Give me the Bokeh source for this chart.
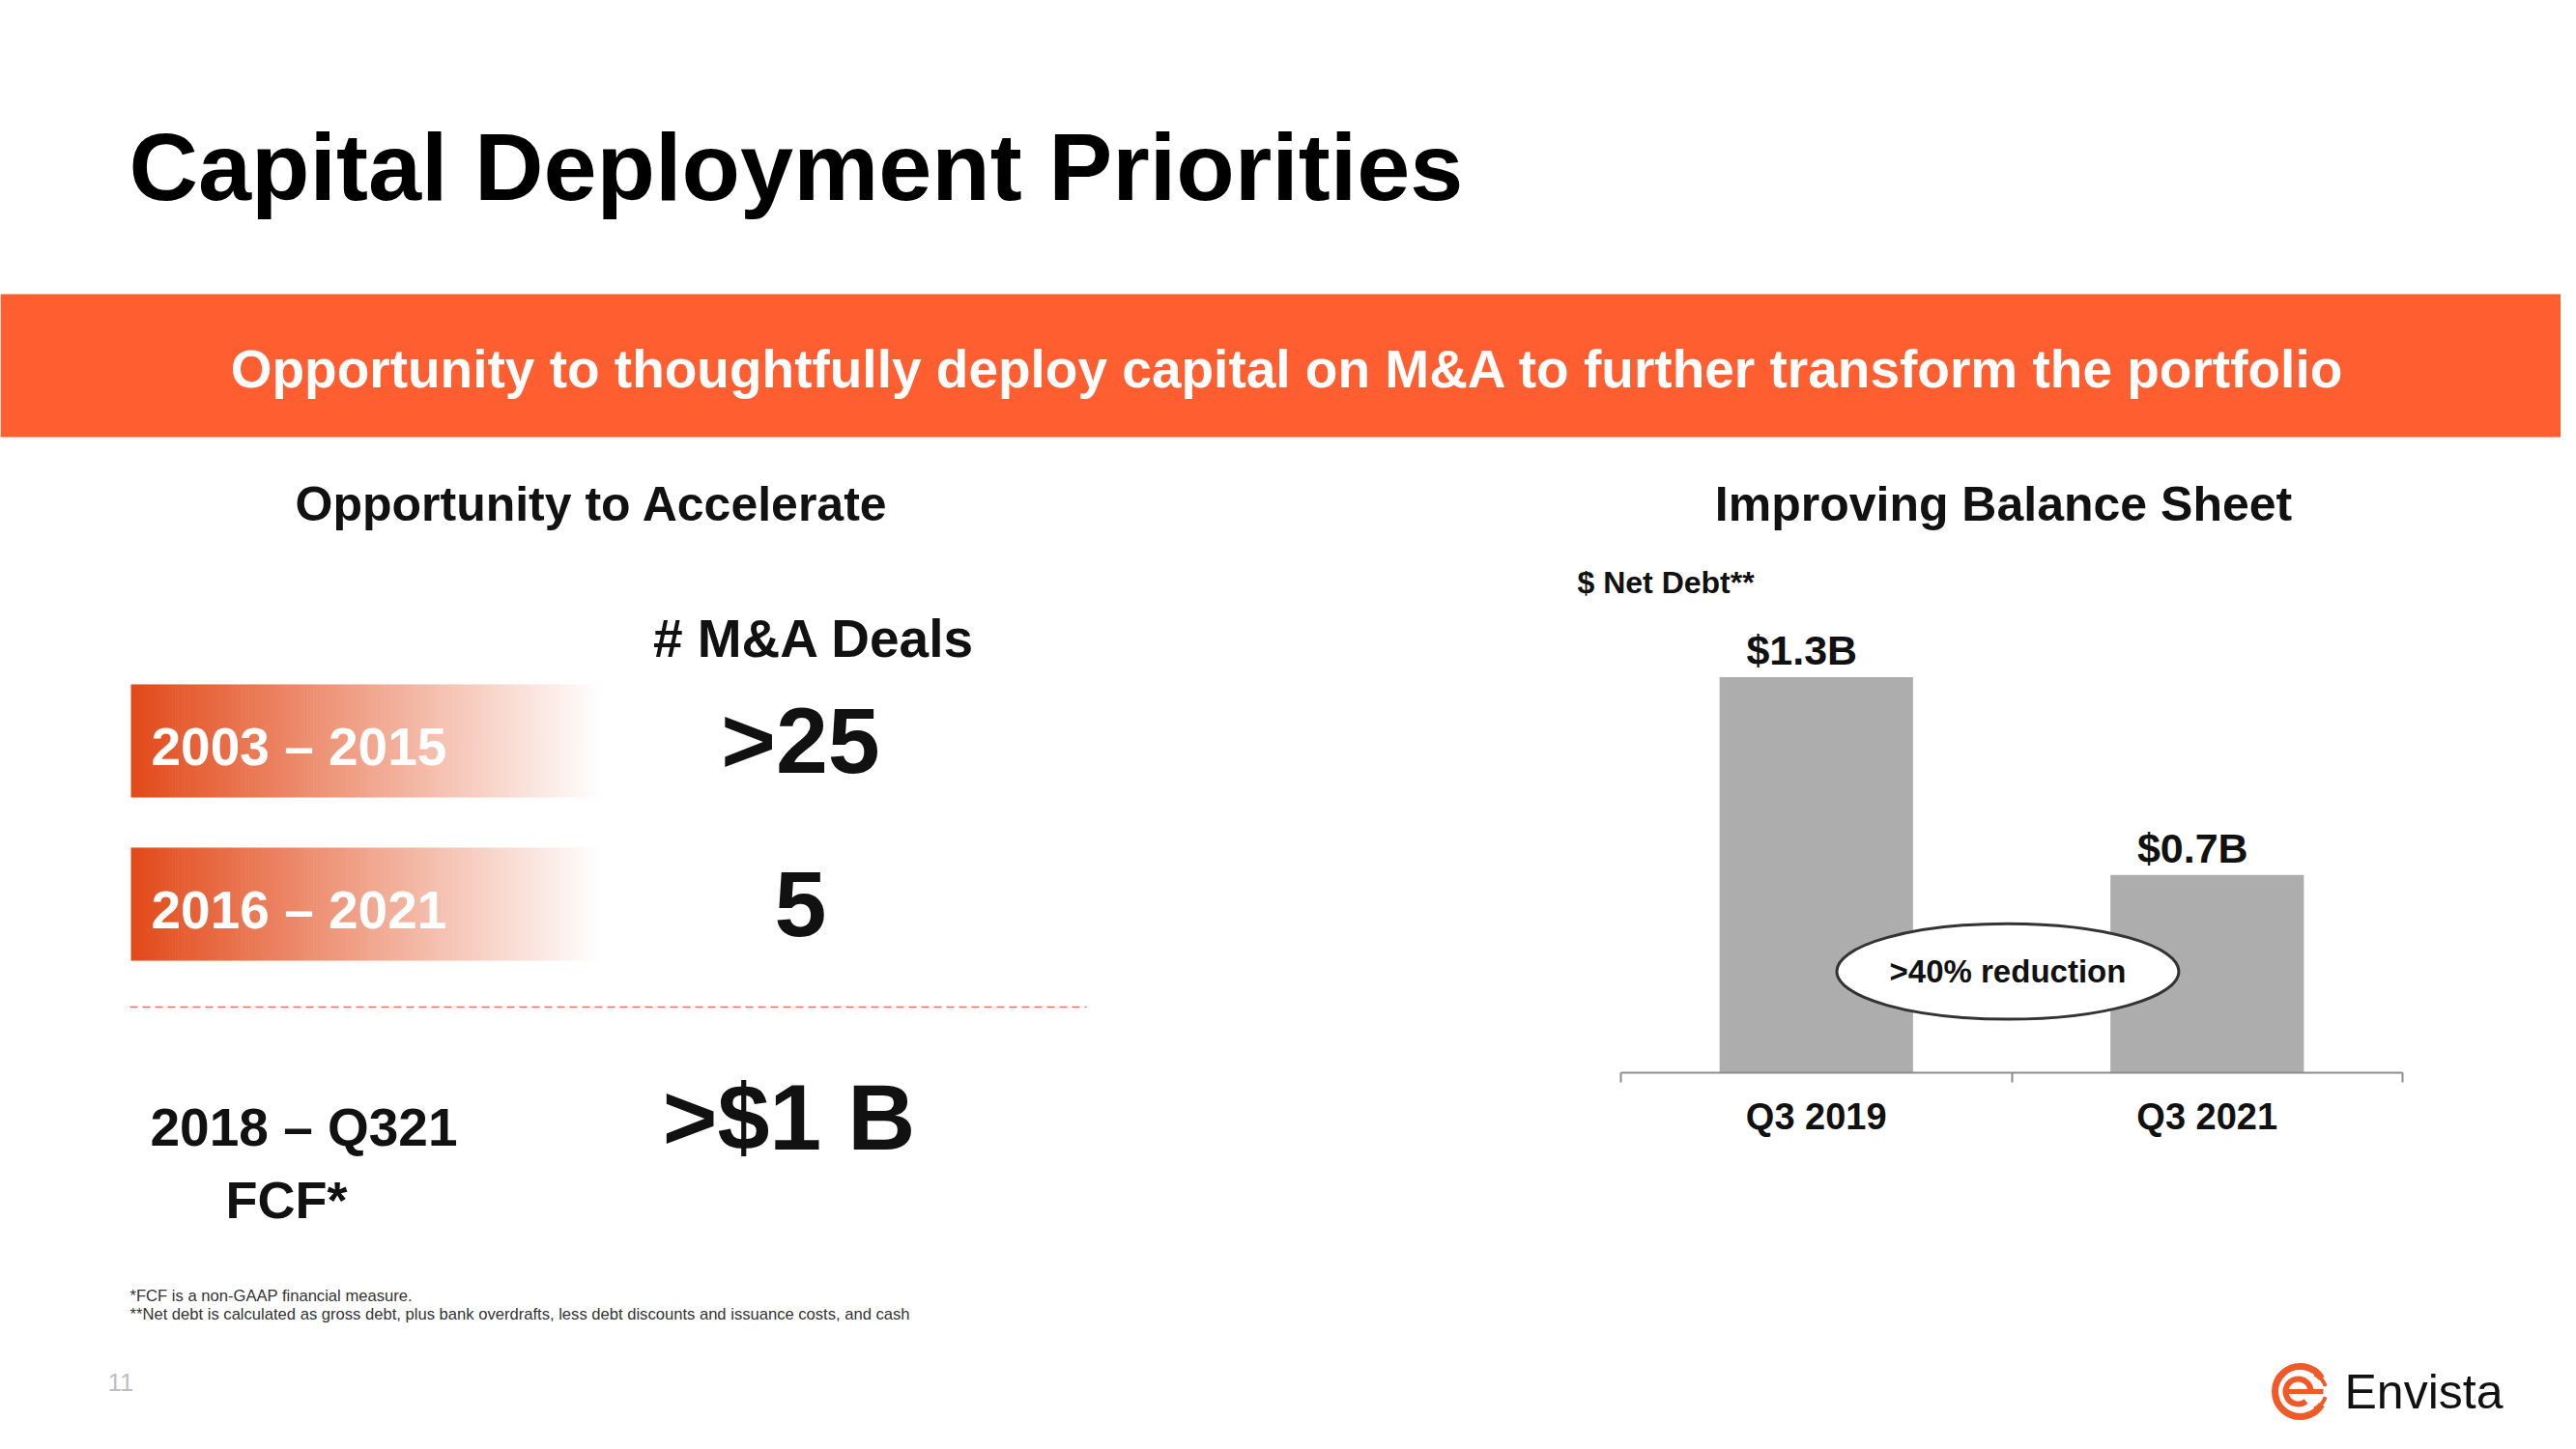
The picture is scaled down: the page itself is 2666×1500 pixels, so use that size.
import numpy as np
from bokeh.plotting import figure
from bokeh.models import Range1d, LinearAxis, FixedTicker
from bokeh.layouts import column, row
from bokeh.embed import file_html
from bokeh.resources import INLINE
from bokeh.core.properties import value

# ---------------- data ----------------
title_text = "Capital Deployment Priorities"
banner_text = "Opportunity to thoughtfully deploy capital on M&A to further transform the portfolio"
left_heading = "Opportunity to Accelerate"
right_heading = "Improving Balance Sheet"
deals_heading = "# M&A Deals"
periods = ["2003 \u2013 2015", "2016 \u2013 2021"]
deals = [">25", "5"]
fcf_period = ["2018 \u2013 Q321", "FCF*"]
fcf_value = ">$1 B"
debt_axis_label = "$ Net Debt**"
debt_quarters = ["Q3 2019", "Q3 2021"]
net_debt_b = [1.3, 0.65]
net_debt_labels = ["$1.3B", "$0.7B"]
reduction_note = ">40% reduction"
footnotes = ["*FCF is a non-GAAP financial measure.",
             "**Net debt is calculated as gross debt, plus bank overdrafts, less debt discounts and issuance costs, and cash"]
page_number = "11"
brand = "Envista"

FONT = value("Liberation Sans")
ORANGE = "#FF5E31"
DARK = "#111111"


def no_align(p):
    try:
        p.frame_align = False
    except Exception:
        pass


def canvas(w, h, x0, x1, y_top, y_bottom):
    p = figure(width=w, height=h, x_range=Range1d(x0, x1), y_range=Range1d(y_bottom, y_top),
               output_backend="svg", toolbar_location=None, min_border=0,
               x_axis_type=None, y_axis_type=None)
    p.grid.visible = False
    p.outline_line_color = None
    p.background_fill_color = "white"
    p.border_fill_color = "white"
    no_align(p)
    return p


def txt(p, x, y, s, size, color=DARK, align="left", bold=True):
    p.text(x=[x], y=[y], text=[s], text_font=FONT, text_font_size=f"{size}px",
           text_font_style="bold" if bold else "normal", text_color=color,
           text_align=align, text_baseline="middle")


# ---------------- top band ----------------
top = canvas(2650, 630, 0, 2650, 0, 630)
txt(top, 133, 172, title_text, 99, color="#000000")
top.quad(left=[0], right=[2650], top=[304], bottom=[452], fill_color=ORANGE, line_color=None)
txt(top, 1332, 381, banner_text, 55, color="white", align="center")
txt(top, 612, 521, left_heading, 50, align="center")
txt(top, 2073, 521, right_heading, 50, align="center")
txt(top, 1632, 602, debt_axis_label, 32)

# ---------------- left panel ----------------
left = canvas(1600, 670, 0, 1600, 630, 1300)
txt(left, 842, 660, deals_heading, 55, align="center")

box_tops = [708, 877]
box_h = 117
edges = np.linspace(135, 622, 161)
c0 = np.array([227, 74, 26])
c1 = np.array([255, 255, 255])
for i, (per, d) in enumerate(zip(periods, deals)):
    bt = box_tops[i]
    for k in range(len(edges) - 1):
        t = k / (len(edges) - 2)
        c = (c0 + (c1 - c0) * t).astype(int)
        left.quad(left=[edges[k]], right=[edges[k + 1] + 0.6], top=[bt], bottom=[bt + box_h],
                  fill_color="#%02x%02x%02x" % tuple(c), line_color=None)
    txt(left, 156, bt + 64, per, 55, color="white")
    txt(left, 828, bt + 58, d, 97, color=DARK, align="center")

left.line(x=[134, 1124], y=[1042, 1042], line_color="#E8735A", line_width=1.5, line_dash="8 5")
txt(left, 155, 1166, fcf_period[0], 55)
txt(left, 296, 1241, fcf_period[1], 54, align="center")
txt(left, 816, 1156, fcf_value, 97, align="center")

# ---------------- net debt chart ----------------
xs = [i + 0.5 for i in range(len(debt_quarters))]
chart = figure(width=1050, height=670, x_range=Range1d(0, len(debt_quarters)), y_range=Range1d(0, 1.524),
               output_backend="svg", toolbar_location=None, x_axis_type=None, y_axis_type=None,
               min_border_left=77, min_border_right=164, min_border_top=0, min_border_bottom=190)
chart.grid.visible = False
chart.outline_line_color = None
chart.background_fill_color = "white"
chart.border_fill_color = "white"
no_align(chart)

chart.vbar(x=xs, top=net_debt_b, width=0.495, fill_color="#ADADAD", line_color=None)
chart.text(x=xs, y=net_debt_b, text=net_debt_labels, text_font=FONT, text_font_size="43px",
           text_font_style="bold", text_color=DARK, text_align="center", text_baseline="middle",
           x_offset=-15, y_offset=-28)
chart.ellipse(x=[0.99], y=[0.333], width=354, height=99, width_units="screen", height_units="screen",
              fill_color="white", line_color="#333333", line_width=3)
chart.text(x=[0.99], y=[0.333], text=[reduction_note], text_font=FONT, text_font_size="33px",
           text_font_style="bold", text_color=DARK, text_align="center", text_baseline="middle")

axis = LinearAxis(ticker=FixedTicker(ticks=xs, minor_ticks=list(range(len(debt_quarters) + 1))),
                  major_label_overrides={x: q for x, q in zip(xs, debt_quarters)})
axis.axis_line_color = "#8C8C8C"
axis.axis_line_width = 2
axis.major_tick_out = 0
axis.major_tick_in = 0
axis.minor_tick_out = 10
axis.minor_tick_in = 0
axis.minor_tick_line_color = "#8C8C8C"
axis.minor_tick_line_width = 2
axis.major_label_standoff = 14
axis.major_label_text_font = "Liberation Sans"
axis.major_label_text_font_size = "38px"
axis.major_label_text_font_style = "bold"
axis.major_label_text_color = DARK
chart.add_layout(axis, "below")

# ---------------- footer ----------------
bottom = canvas(2650, 184, 0, 2650, 1300, 1484)
txt(bottom, 134, 1341, footnotes[0], 16.6, color="#333333", bold=False)
txt(bottom, 134, 1360, footnotes[1], 16.6, color="#333333", bold=False)
txt(bottom, 111, 1430, page_number, 26, color="#BFBFBF", bold=False)
LOGO = "#F05A28"
bottom.arc(x=[2380], y=[1440], radius=26, start_angle=0.55, end_angle=2 * np.pi - 0.55,
           line_color=LOGO, line_width=7)
bottom.arc(x=[2378], y=[1440], radius=13, start_angle=0.0, end_angle=2 * np.pi - 0.9,
           line_color=LOGO, line_width=6)
bottom.line(x=[2366, 2404], y=[1440, 1440], line_color=LOGO, line_width=5)
bottom.arc(x=[2388], y=[1440], radius=19, start_angle=-1.2, end_angle=-0.3, line_color=LOGO, line_width=4)
bottom.arc(x=[2388], y=[1440], radius=19, start_angle=0.3, end_angle=1.2, line_color=LOGO, line_width=4)
txt(bottom, 2426, 1440, brand, 50, color=DARK, bold=False)

layout = column(top, row(left, chart), bottom)
open("out.html", "w").write(file_html(layout, INLINE))
